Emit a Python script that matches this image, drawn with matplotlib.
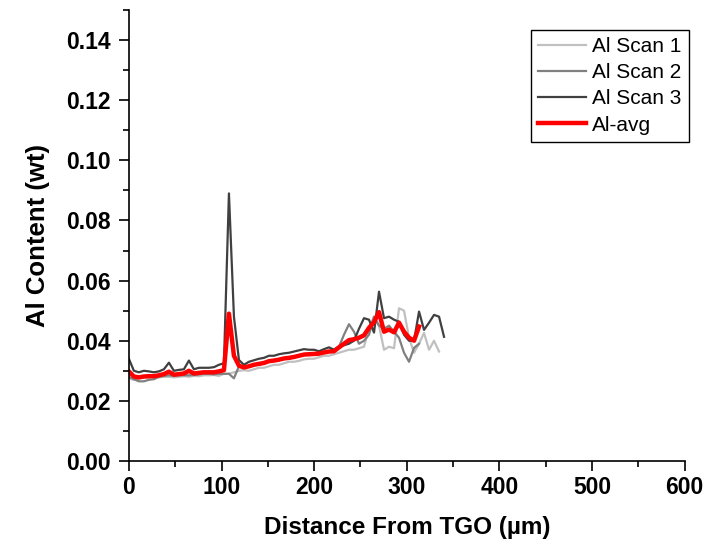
import matplotlib
matplotlib.use("Agg")
import matplotlib.pyplot as plt
from matplotlib.ticker import MultipleLocator, FormatStrFormatter

plt.rcParams['font.family'] = ['Liberation Sans', 'DejaVu Sans']

# distance from TGO (um), common sampling grid of the scans
distance = [0, 5.4, 10.8, 16.2, 21.6, 27.0, 32.4, 37.8, 43.2, 48.6,
            54.0, 59.4, 64.8, 70.2, 75.6, 81.0, 86.4, 91.8, 97.2, 102.6,
            108.0, 113.4, 118.8, 124.2, 129.6, 135.0, 140.4, 145.8, 151.2, 156.6,
            162.0, 167.4, 172.8, 178.2, 183.6, 189.0, 194.4, 199.8, 205.2, 210.6,
            216.0, 221.4, 226.8, 232.2, 237.6, 243.0, 248.4, 253.8, 259.2, 264.6,
            270.0, 275.4, 280.8, 286.2, 291.6, 297.0, 302.4, 307.8, 313.2, 318.6,
            324.0, 329.4, 334.8, 340.2]

# Al content (wt) per scan
scan1 = [0.0275, 0.0270, 0.0275, 0.0278, 0.0278, 0.0280, 0.0278, 0.0280, 0.0280, 0.0278,
         0.0280, 0.0282, 0.0280, 0.0283, 0.0282, 0.0285, 0.0285, 0.0286, 0.0283, 0.0290,
         0.0290, 0.0295, 0.0300, 0.0302, 0.0300, 0.0305, 0.0310, 0.0310, 0.0315, 0.0320,
         0.0320, 0.0325, 0.0330, 0.0330, 0.0333, 0.0338, 0.0340, 0.0340, 0.0345, 0.0350,
         0.0350, 0.0355, 0.0360, 0.0365, 0.0370, 0.0370, 0.0375, 0.0380, 0.0440, 0.0480,
         0.0450, 0.0370, 0.0380, 0.0375, 0.0508, 0.0500, 0.0410, 0.0360, 0.0390, 0.0426,
         0.0370, 0.0400, 0.0364]

scan2 = [0.0280, 0.0272, 0.0265, 0.0265, 0.0270, 0.0272, 0.0280, 0.0283, 0.0285, 0.0283,
         0.0285, 0.0285, 0.0285, 0.0286, 0.0288, 0.0290, 0.0290, 0.0288, 0.0290, 0.0290,
         0.0290, 0.0275, 0.0315, 0.0310, 0.0315, 0.0320, 0.0320, 0.0325, 0.0330, 0.0333,
         0.0335, 0.0340, 0.0340, 0.0345, 0.0350, 0.0352, 0.0355, 0.0358, 0.0360, 0.0362,
         0.0365, 0.0370, 0.0380, 0.0420, 0.0455, 0.0430, 0.0390, 0.0400, 0.0420, 0.0480,
         0.0450, 0.0440, 0.0450, 0.0430, 0.0410, 0.0360, 0.0330, 0.0376, 0.0390]

scan3 = [0.0340, 0.0300, 0.0295, 0.0300, 0.0298, 0.0295, 0.0298, 0.0305, 0.0327, 0.0300,
         0.0303, 0.0305, 0.0334, 0.0305, 0.0310, 0.0310, 0.0310, 0.0312, 0.0320, 0.0325,
         0.0890, 0.0480, 0.0336, 0.0320, 0.0330, 0.0335, 0.0340, 0.0343, 0.0350, 0.0350,
         0.0355, 0.0358, 0.0360, 0.0364, 0.0368, 0.0372, 0.0370, 0.0370, 0.0365, 0.0372,
         0.0378, 0.0370, 0.0380, 0.0385, 0.0390, 0.0400, 0.0440, 0.0475, 0.0470, 0.0427,
         0.0563, 0.0475, 0.0480, 0.0470, 0.0463, 0.0420, 0.0400, 0.0400, 0.0497, 0.0436,
         0.0460, 0.0486, 0.0480, 0.0413]

al_avg = [0.0298, 0.0281, 0.0278, 0.0281, 0.0282, 0.0282, 0.0285, 0.0289, 0.0297, 0.0287,
          0.0289, 0.0291, 0.0300, 0.0291, 0.0293, 0.0295, 0.0295, 0.0295, 0.0298, 0.0302,
          0.0490, 0.0350, 0.0317, 0.0311, 0.0315, 0.0320, 0.0323, 0.0326, 0.0332, 0.0334,
          0.0337, 0.0341, 0.0343, 0.0346, 0.0350, 0.0354, 0.0355, 0.0356, 0.0357, 0.0361,
          0.0364, 0.0365, 0.0378, 0.0390, 0.0402, 0.0405, 0.0410, 0.0418, 0.0443, 0.0462,
          0.0495, 0.0430, 0.0437, 0.0428, 0.0460, 0.0430, 0.0410, 0.0400, 0.0447]

fig = plt.figure(figsize=(7.2, 5.44), dpi=100)
ax = fig.add_axes([0.179, 0.1526, 0.772, 0.829])

ax.plot(distance[:len(scan1)], scan1, color='#c0c0c0', lw=1.6, label='Al Scan 1')
ax.plot(distance[:len(scan2)], scan2, color='#808080', lw=1.6, label='Al Scan 2')
ax.plot(distance[:len(scan3)], scan3, color='#404040', lw=1.6, label='Al Scan 3')
ax.plot(distance[:len(al_avg)], al_avg, color='#ff0000', lw=3.2, label='Al-avg')

ax.set_xlim(0, 600)
ax.set_ylim(0, 0.15)
ax.xaxis.set_major_locator(MultipleLocator(100))
ax.xaxis.set_minor_locator(MultipleLocator(50))
ax.yaxis.set_major_locator(MultipleLocator(0.02))
ax.yaxis.set_minor_locator(MultipleLocator(0.01))
ax.yaxis.set_major_formatter(FormatStrFormatter('%.2f'))

for side in ['top', 'right']:
    ax.spines[side].set_visible(False)
for side in ['left', 'bottom']:
    ax.spines[side].set_linewidth(1.2)
ax.tick_params(which='major', direction='out', length=7, width=1.2, labelsize=16.5)
ax.tick_params(axis='y', which='major', pad=6)
ax.tick_params(axis='x', which='major', pad=4)
ax.tick_params(which='minor', direction='out', length=4, width=1.2)
for lab in ax.get_xticklabels() + ax.get_yticklabels():
    lab.set_fontweight('bold')

ax.set_xlabel('Distance From TGO (\u00b5m)', fontsize=17.5, fontweight='bold', labelpad=12)
ax.set_ylabel('Al Content (wt)', fontsize=18.5, fontweight='bold', labelpad=12)

leg = ax.legend(loc='upper right', bbox_to_anchor=(689 / 720, 1 - 30 / 544),
                bbox_transform=fig.transFigure, fontsize=15, handlelength=2.3,
                fancybox=False, framealpha=1, borderpad=0.35, labelspacing=0.34,
                handletextpad=0.3, borderaxespad=0)
leg.get_frame().set_edgecolor('black')
leg.get_frame().set_linewidth(1.0)

fig.savefig('out.png', dpi=100)
